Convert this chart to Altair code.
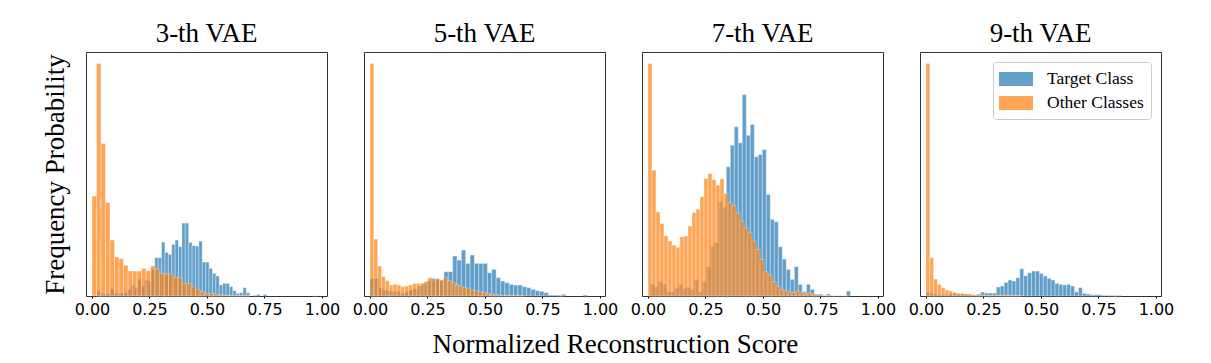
import altair as alt
import pandas as pd

PANELS = ["3-th VAE", "5-th VAE", "7-th VAE", "9-th VAE"]
SERIES = ["Target Class", "Other Classes"]
COLORS = ["#1f77b4", "#ff7f0e"]
X_TICKS = [0.0, 0.25, 0.5, 0.75, 1.0]

# histogram bin ranges (start, end) and bar heights (relative frequency units)
P1_BLUE_RANGE = [0.022, 0.76]
P1_BLUE = [13, 8, 6, 8, 22, 8, 8, 8, 10, 20, 33, 26, 50, 30, 48, 45, 80, 115, 115, 162,
           131, 125, 155, 168, 148, 219, 219, 161, 151, 150, 165, 102, 102, 83, 68, 60, 33, 38, 38, 28,
           16, 8, 10, 25, 10, 0, 2, 5, 0, 5]
P1_ORANGE_RANGE = [0.0, 0.98]
P1_ORANGE = [300, 698, 458, 281, 168, 117, 112, 92, 75, 75, 75, 83, 76, 91, 81, 68, 66, 66, 56, 55,
             38, 38, 28, 20, 13, 8, 8, 6, 3, 3, 2, 2, 1, 1, 1, 0, 0, 0, 0, 0,
             0, 0, 0, 0, 0, 0, 0, 0, 0, 1]

P2_BLUE_RANGE = [0.0, 0.946]
P2_BLUE = [53, 53, 25, 18, 14, 14, 13, 8, 13, 18, 22, 30, 38, 45, 53, 50, 48, 73, 73, 120,
           108, 138, 98, 123, 98, 98, 98, 70, 80, 55, 45, 40, 35, 33, 33, 28, 25, 20, 16, 14,
           10, 3, 3, 3, 5, 0, 0, 0, 0, 3]
P2_ORANGE_RANGE = [0.0, 0.84]
P2_ORANGE = [698, 171, 90, 58, 46, 33, 35, 33, 28, 30, 33, 38, 38, 38, 43, 55, 48, 53, 46, 55,
             46, 40, 33, 30, 26, 24, 18, 16, 13, 10, 8, 6, 4, 3, 2, 2, 1, 1, 1, 1,
             0, 0, 0, 0, 0, 0, 0, 0, 0, 1]

P3_BLUE_RANGE = [0.01, 0.88]
P3_BLUE = [36, 28, 43, 35, 13, 13, 23, 35, 23, 26, 20, 50, 13, 43, 88, 148, 160, 283, 266, 388,
           453, 508, 460, 605, 483, 515, 418, 425, 440, 305, 230, 223, 148, 111, 80, 50, 88, 35, 13, 35,
           20, 6, 6, 0, 6, 0, 0, 0, 0, 15]
P3_ORANGE_RANGE = [0.0, 0.87]
P3_ORANGE = [698, 378, 253, 218, 181, 165, 153, 146, 178, 180, 210, 251, 261, 298, 353, 368, 350, 333, 352, 308,
             280, 271, 250, 225, 205, 190, 165, 140, 110, 73, 63, 43, 30, 20, 16, 12, 11, 15, 10, 8,
             8, 6, 4, 3, 2, 2, 1, 1, 1, 1]

P4_BLUE_RANGE = [0.0, 0.85]
P4_BLUE = [11, 8, 6, 4, 4, 3, 6, 8, 6, 6, 6, 4, 2, 6, 12, 9, 9, 9, 27, 30,
           41, 48, 45, 55, 82, 61, 70, 75, 75, 68, 60, 53, 48, 38, 35, 33, 35, 30, 13, 25,
           8, 6, 4, 4, 4, 2, 2, 2, 2, 2]
P4_ORANGE_RANGE = [0.0, 0.83]
P4_ORANGE = [698, 115, 51, 35, 25, 18, 15, 11, 8, 8, 6, 6, 4, 3, 3, 2, 2, 2, 2, 2,
             2, 1, 1, 1, 1, 0, 0, 0, 0, 0, 0, 0, 0, 0, 0, 0, 0, 0, 0, 0,
             0, 0, 0, 0, 0, 0, 0, 0, 0, 1]

HISTS = [
    [(P1_BLUE_RANGE, P1_BLUE), (P1_ORANGE_RANGE, P1_ORANGE)],
    [(P2_BLUE_RANGE, P2_BLUE), (P2_ORANGE_RANGE, P2_ORANGE)],
    [(P3_BLUE_RANGE, P3_BLUE), (P3_ORANGE_RANGE, P3_ORANGE)],
    [(P4_BLUE_RANGE, P4_BLUE), (P4_ORANGE_RANGE, P4_ORANGE)],
]

rows = []
for p, panel_name in enumerate(PANELS):
    for s, (rng, heights) in enumerate(HISTS[p]):
        lo, hi = rng
        w = (hi - lo) / len(heights)
        for i, h in enumerate(heights):
            if h <= 0:
                continue
            rows.append({"panel": panel_name, "series": SERIES[s], "k": s,
                         "x0": lo + i * w, "x1": lo + (i + 1) * w, "h": h})
df = pd.DataFrame(rows)

Y_MAX = max(max(P1_ORANGE), max(P3_BLUE)) * 1.05
SERIF = "Liberation Serif"


def make_panel(p):
    d = df[df.panel == PANELS[p]]
    if p == 0:
        yaxis = alt.Axis(title="Frequency Probability", labels=False, ticks=False, domain=False,
                         grid=False, titleFont=SERIF, titleFontSize=27, titleFontWeight="normal",
                         titleColor="black", titlePadding=17)
    else:
        yaxis = None
    if p == 3:
        legend = alt.Legend(orient="top-right", title=None, offset=10, padding=7,
                            strokeColor="#cccccc", cornerRadius=3, fillColor="white",
                            labelFont=SERIF, labelFontSize=17.5, labelColor="black",
                            symbolType="M-1.7,-0.7L1.7,-0.7L1.7,0.7L-1.7,0.7Z",
                            symbolSize=400, symbolOpacity=0.7, symbolStrokeWidth=0,
                            symbolOffset=6, labelOffset=21, rowPadding=5)
    else:
        legend = None
    return alt.Chart(d).mark_bar(opacity=0.7, stroke="white", strokeWidth=0.4).encode(
        x=alt.X("x0:Q", scale=alt.Scale(domain=[-0.026, 1.022], nice=False, zero=False),
                axis=alt.Axis(values=X_TICKS, format=".2f", title=None, labelFlush=False,
                              labelOverlap=False, grid=False, domain=False, tickSize=2,
                              tickColor="black", labelFont="DejaVu Sans", labelFontSize=16,
                              labelColor="black", labelPadding=3)),
        x2="x1:Q",
        y=alt.Y("h:Q", stack=None, scale=alt.Scale(domain=[0, Y_MAX], nice=False), axis=yaxis),
        y2=alt.datum(0),
        color=alt.Color("series:N", scale=alt.Scale(domain=SERIES, range=COLORS), legend=legend),
        order=alt.Order("k:Q"),
    ).properties(
        width=241, height=244,
        title=alt.TitleParams(PANELS[p], font=SERIF, fontSize=27, fontWeight="normal",
                              color="black", offset=4),
    )


chart = alt.hconcat(*[make_panel(p) for p in range(4)], spacing=37, bounds="flush").properties(
    title=alt.TitleParams("Normalized Reconstruction Score", orient="bottom", anchor="middle",
                          font=SERIF, fontSize=27, fontWeight="normal", color="black",
                          offset=14, dx=8),
    padding={"left": 32, "top": 11, "right": 5, "bottom": 5},
).resolve_legend(color="independent").configure_view(stroke="#333333", strokeWidth=1)

chart.save("out.html", embed_options={"renderer": "svg", "actions": False})
